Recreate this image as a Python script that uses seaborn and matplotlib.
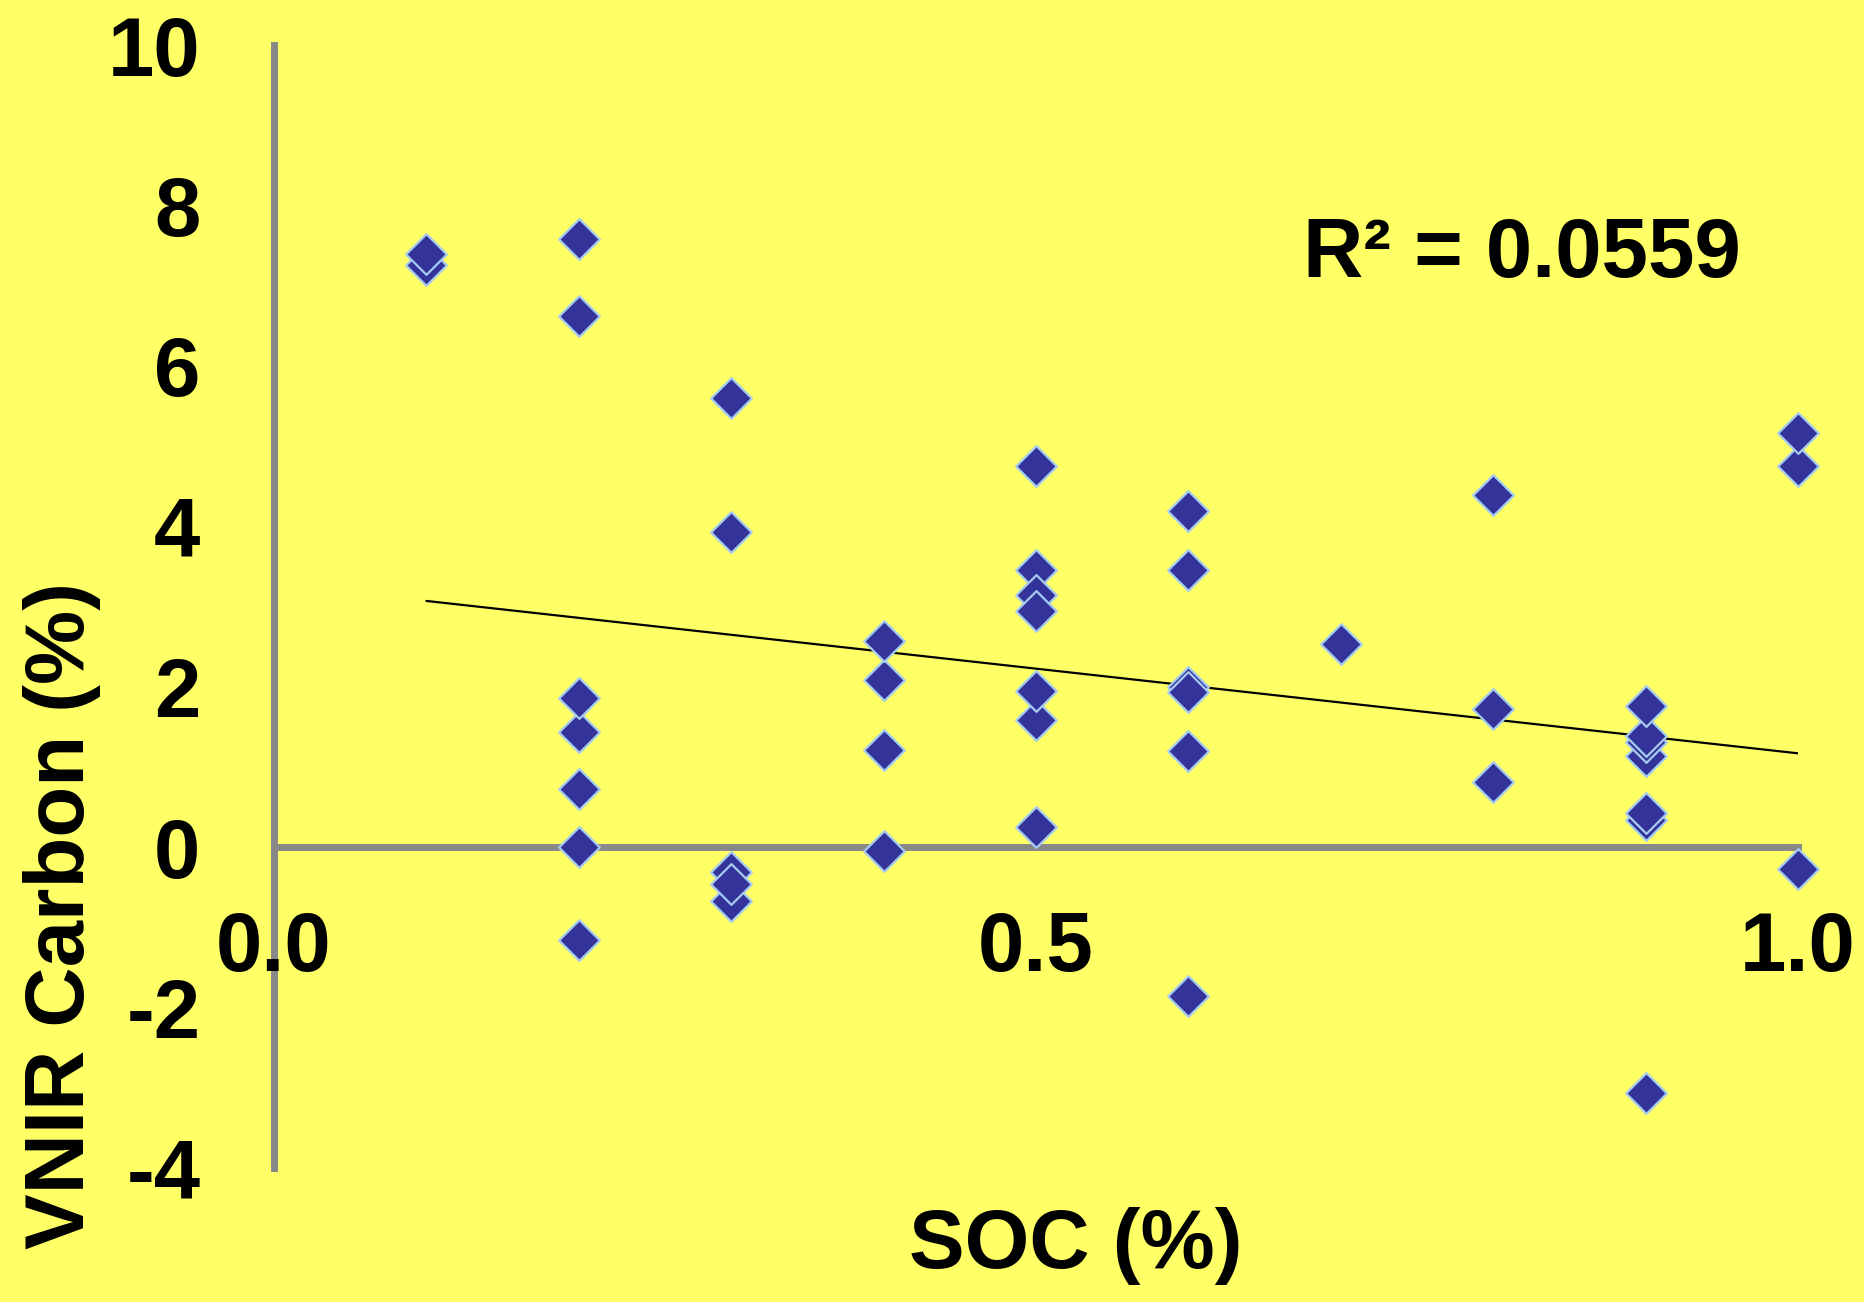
import pandas as pd
import seaborn as sns
import matplotlib.pyplot as plt

## Data
soc = [0.1, 0.1,
       0.2, 0.2, 0.2, 0.2, 0.2, 0.2, 0.2,
       0.3, 0.3, 0.3, 0.3, 0.3,
       0.4, 0.4, 0.4, 0.4,
       0.5, 0.5, 0.5, 0.5, 0.5, 0.5, 0.5,
       0.6, 0.6, 0.6, 0.6, 0.6, 0.6,
       0.7,
       0.8, 0.8, 0.8,
       0.9, 0.9, 0.9, 0.9, 0.9, 0.9, 0.9,
       1.0, 1.0, 1.0]
vnir = [7.26, 7.39,
        -1.16, 0.0, 0.72, 1.44, 1.86, 6.62, 7.58,
        -0.31, -0.67, -0.46, 3.93, 5.60,
        -0.05, 1.21, 2.09, 2.57,
        0.25, 1.59, 1.95, 3.46, 3.15, 2.95, 4.75,
        -1.86, 1.20, 2.0, 1.93, 3.45, 4.19,
        2.53,
        0.81, 1.72, 4.39,
        -3.06, 0.34, 0.43, 1.14, 1.31, 1.39, 1.76,
        -0.27, 4.75, 5.16]

trend_x = [0.1, 1.0]
trend_y = [3.07, 1.17]
r2_text = "R² = 0.0559"

x_ticks = [0.0, 0.5, 1.0]
x_ticklabels = ["0.0", "0.5", "1.0"]
y_ticks = [-4, -2, 0, 2, 4, 6, 8, 10]

## Style
sns.set_style("white")
plt.rcParams['font.family'] = ['Liberation Sans', 'DejaVu Sans']
plt.rcParams['axes.unicode_minus'] = False
plt.rcParams['text.color'] = 'black'
plt.rcParams['axes.labelcolor'] = 'black'
plt.rcParams['xtick.color'] = 'black'
plt.rcParams['ytick.color'] = 'black'

bg = '#FFFF66'
axis_gray = '#888888'

fig = plt.figure(figsize=(18.64, 13.02), dpi=100, facecolor=bg)
ax = fig.add_axes([0.147, 0.1029, 0.8176, 0.8625])
ax.set_facecolor(bg)

df = pd.DataFrame({'SOC': soc, 'VNIR': vnir})

sns.lineplot(x=trend_x, y=trend_y, color='black', linewidth=1.6, ax=ax, zorder=3)
sns.scatterplot(data=df, x='SOC', y='VNIR', marker='D', s=430,
                color='#333399', edgecolor='#A6CAF0', linewidth=1.6,
                clip_on=False, zorder=4, ax=ax)

ax.set_xlim(0, 1)
ax.set_ylim(-4, 10)

## Axes crossing at zero, Excel style
for side in ['top', 'right']:
    ax.spines[side].set_visible(False)
for side in ['left', 'bottom']:
    ax.spines[side].set_position(('data', 0))
    ax.spines[side].set_color(axis_gray)
    ax.spines[side].set_linewidth(5)

ax.set_xticks(x_ticks, labels=x_ticklabels)
ax.set_yticks(y_ticks)
ax.tick_params(axis='both', length=0, labelsize=60, labelcolor='black')
ax.tick_params(axis='x', pad=45)
ax.tick_params(axis='y', pad=53)
for lbl in ax.get_xticklabels() + ax.get_yticklabels():
    lbl.set_fontweight('bold')
ax.xaxis.set_zorder(3)

ax.set_xlabel('SOC (%)', fontsize=60, fontweight='bold', color='black')
ax.xaxis.set_label_coords(0.526, -0.035)
ax.set_ylabel('VNIR Carbon (%)', fontsize=60, fontweight='bold', color='black')
ax.yaxis.set_label_coords(-0.1135, 0.225)

ax.text(0.675, 7.11, r2_text, fontsize=60, fontweight='bold',
        color='black', ha='left', va='baseline')

fig.savefig('out.png', dpi=100, facecolor=bg)
